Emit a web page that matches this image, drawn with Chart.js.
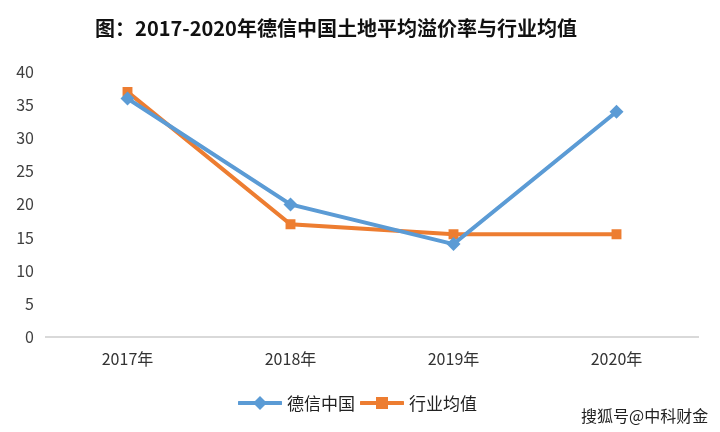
<!DOCTYPE html>
<html>
<head>
<meta charset="utf-8">
<script src="https://cdn.jsdelivr.net/npm/chart.js@4"></script>
<style>
  html, body { margin: 0; padding: 0; background: #fff; }
  #wrap { position: relative; width: 720px; height: 432px; font-family: "Noto Sans CJK SC", "Noto Sans", sans-serif; }
  #title { position: absolute; left: 0; top: 14px; width: 672px; text-align: center; font-size: 20px; font-weight: bold; color: #111; line-height: 28px; }
  #legend { position: absolute; left: 0; width: 720px; top: 390px; display: flex; justify-content: center; align-items: center; font-size: 17px; color: #222; }
  .item { display: flex; align-items: center; margin-right: 5px; }
  .item svg { margin-right: 5px; }
  #mark { position: absolute; left: 581px; top: 403px; font-size: 16px; color: #222; text-shadow: 0 0 2px #fff, 0 0 2px #fff; }
</style>
</head>
<body>
<div id="wrap">
  <canvas id="chart" width="720" height="432"></canvas>
  <div id="title">图：2017-2020年德信中国土地平均溢价率与行业均值</div>
  <div id="legend"></div>
  <div id="mark">搜狐号@中科财金</div>
</div>
<script>
const years = ["2017年", "2018年", "2019年", "2020年"];
const dexin = [36, 20, 14, 34];
const industry = [37, 17, 15.5, 15.5];
const seriesNames = ["德信中国", "行业均值"];

const blue = "#5b9bd5";
const orange = "#ed7d31";
const font = "'Noto Sans CJK SC', 'Noto Sans', sans-serif";

const ctx = document.getElementById("chart").getContext("2d");

const chart = new Chart(ctx, {
  type: "line",
  data: {
    labels: years,
    datasets: [
      {
        label: seriesNames[0],
        data: dexin,
        borderColor: blue,
        backgroundColor: blue,
        borderWidth: 4,
        pointStyle: "rectRot",
        pointRadius: 7,
        pointBorderWidth: 0,
      },
      {
        label: seriesNames[1],
        data: industry,
        borderColor: orange,
        backgroundColor: orange,
        borderWidth: 4,
        pointStyle: "rect",
        pointRadius: 7,
        pointBorderWidth: 0,
      },
    ],
  },
  options: {
    responsive: false,
    animation: false,
    layout: { padding: { left: 0, right: 22, top: 72, bottom: 50 } },
    plugins: {
      legend: { display: false },
      tooltip: { enabled: false },
      title: { display: false },
    },
    scales: {
      x: {
        offset: true,
        grid: { display: false, drawTicks: false },
        border: { display: true, color: "#d9d9d9", width: 2 },
        ticks: { color: "#333", font: { family: font, size: 16 }, padding: 13 },
      },
      y: {
        min: 0,
        max: 40,
        grid: { display: false, drawTicks: false },
        border: { display: false },
        ticks: { stepSize: 5, color: "#404040", font: { family: font, size: 16 }, padding: 12 },
        afterFit: (scale) => { scale.width = 46; },
      },
    },
  },
});

// legend: line with marker in the middle, like the original
const legend = document.getElementById("legend");
chart.data.datasets.forEach((ds) => {
  const item = document.createElement("div");
  item.className = "item";
  const marker = ds.pointStyle === "rectRot"
    ? '<polygon points="22,3 29,10 22,17 15,10" fill="' + ds.borderColor + '"/>'
    : '<rect x="16" y="4" width="12" height="12" fill="' + ds.borderColor + '"/>';
  item.innerHTML =
    '<svg width="44" height="20"><line x1="1" y1="10" x2="43" y2="10" stroke="' + ds.borderColor +
    '" stroke-width="4" stroke-linecap="round"/>' + marker + "</svg><span>" + ds.label + "</span>";
  legend.appendChild(item);
});
</script>
</body>
</html>
